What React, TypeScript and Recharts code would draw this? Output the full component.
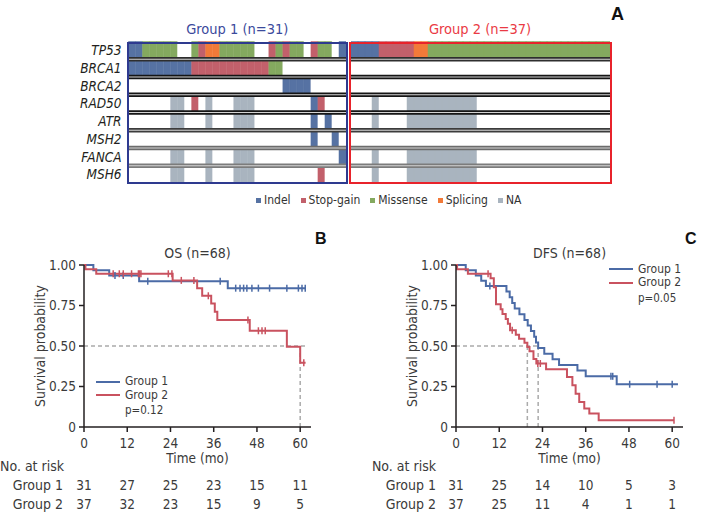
import React from "react";
import { BarChart, Bar, Cell, XAxis, YAxis, ReferenceLine, ComposedChart, Line } from "recharts";

const FONT = "'Liberation Sans Narrow', 'Arial Narrow', 'DejaVu Sans Condensed', 'Liberation Sans', Arial, sans-serif";

// ---------- panel A: mutation map ----------
const genes = ["TP53", "BRCA1", "BRCA2", "RAD50", "ATR", "MSH2", "FANCA", "MSH6"];
const mutationTypes = ["Indel", "Stop-gain", "Missense", "Splicing", "NA"];
const mutationCodes = ["I", "S", "M", "P", "N"];
const mutationColors = ["#5672a3", "#c2606b", "#84a95f", "#f27a39", "#a9b4bf"];

// one character per patient: I indel, S stop-gain, M missense, P splicing, N NA, . none
const group1Calls = [
  "IIMMMMM..MSPPMMMMM..SMSMM.SMM.I",
  "IIIIIIIIISSSSSSSSSSSMM.........",
  "......................IIII.....",
  "......NN.S.N...NNN........IS...",
  "......NN...N...NNN........I.I..",
  "..........................I..I.",
  "......NN...N...NNN............I",
  "......NN...N...NNN.........S...",
];
const group2Calls = [
  "IIIISSSSSPP" + "MMMMMMMMMMMMM" + "MMMMMMMMMMMMM",
  ".........." + ".........." + ".........." + ".......",
  ".........." + ".........." + ".........." + ".......",
  "...N....NNNNNNNNNN" + ".........." + ".........",
  "...N....NNNNNNNNNN" + ".........." + ".........",
  ".........." + ".........." + ".........." + ".......",
  "...N....NNNNNNNNNN" + ".........." + ".........",
  "...N....NNNNNNNNNN" + ".........." + ".........",
];
const separatorColors = ["#2e2e2e", "#151515", "#151515", "#151515", "#3c3c3c", "#6c6c6c", "#7c7c7c"];

// ---------- panels B / C: survival ----------
const monthTicks = [0, 12, 24, 36, 48, 60];
const survivalTicks = [0, 0.25, 0.5, 0.75, 1];

const osGroup1Steps = [[0, 1], [2.6, 0.968], [7.0, 0.935], [15.3, 0.9], [39.9, 0.857], [61.5, 0.857]];
const osGroup1Censored = [8.6, 10.9, 17.7, 37.8, 42.1, 43.3, 44.3, 45.2, 46.6, 48.4, 51.5, 56.3, 59.5, 60.5, 61.4];
const osGroup2Steps = [[0, 1], [0.4, 0.973], [3.4, 0.946], [24.6, 0.905], [31.4, 0.857], [32.8, 0.81], [35.3, 0.762], [36.3, 0.711], [37.0, 0.66], [46.0, 0.594], [56.3, 0.495], [60.0, 0.396], [61.5, 0.396]];
const osGroup2Censored = [8.1, 9.8, 10.9, 13.2, 15.1, 15.4, 15.8, 23.4, 24.4, 27.0, 30.5, 34.5, 45.5, 48.4, 49.4, 50.3, 61.0];
const osRisk1 = [31, 27, 25, 23, 15, 11];
const osRisk2 = [37, 32, 23, 15, 9, 5];
const osGuides = [[0, 0.5, 62, 0.5], [60, 0, 60, 0.5]];

const dfsGroup1Steps = [[0, 1], [2.7, 0.968], [5.5, 0.935], [7.0, 0.903], [8.3, 0.871], [14.0, 0.836], [14.9, 0.801], [15.6, 0.766], [16.3, 0.731], [17.6, 0.696], [19.0, 0.661], [19.9, 0.626], [20.8, 0.592], [21.7, 0.557], [22.2, 0.522], [22.8, 0.487], [24.5, 0.452], [26.8, 0.418], [28.6, 0.383], [33.7, 0.348], [36.0, 0.313], [44.6, 0.264], [61.6, 0.264]];
const dfsGroup1Censored = [9.4, 43.0, 43.5, 48.2, 55.8, 60.0];
const dfsGroup2Steps = [[0, 1], [0.3, 0.973], [3.3, 0.946], [9.6, 0.918], [10.5, 0.862], [11.1, 0.757], [12.4, 0.727], [12.9, 0.697], [13.8, 0.667], [14.4, 0.637], [15.0, 0.597], [16.6, 0.57], [17.5, 0.545], [19.0, 0.52], [19.8, 0.494], [20.4, 0.468], [21.5, 0.42], [22.3, 0.392], [25.0, 0.356], [30.8, 0.309], [32.3, 0.258], [33.2, 0.206], [34.2, 0.155], [35.6, 0.114], [37.0, 0.083], [39.6, 0.041], [60.5, 0.041]];
const dfsGroup2Censored = [8.9, 15.6, 22.7, 23.4, 60.5];
const dfsRisk1 = [31, 25, 14, 10, 5, 3];
const dfsRisk2 = [37, 25, 11, 4, 1, 1];
const dfsGuides = [[0, 0.5, 22.8, 0.5], [19.8, 0, 19.8, 0.5], [22.8, 0, 22.8, 0.5]];

const BLUE = "#4b6ba6";
const RED = "#c9525f";
const INK = "#231f20";
const TEXT = "#3a3a3a";

const colorOf = (code: string) => {
  const i = mutationCodes.indexOf(code);
  return i < 0 ? "#ffffff" : mutationColors[i];
};

const toRows = (calls: string[]) =>
  calls[0].split("").map((_, i) => {
    const row: any = { id: i };
    genes.forEach((g, k) => {
      row[g] = 1;
      row[g + "_c"] = calls[k][i];
    });
    return row;
  });

function OncoPanel({ calls, left, width, showLabels }: any) {
  const rows = toRows(calls);
  return (
    <div style={{ position: "absolute", left, top: 0 }}>
      <BarChart width={width} height={200} data={rows} margin={{ top: 41.5, right: 0, bottom: 16.5, left: 0 }} barCategoryGap={0} barGap={0}>
        <XAxis dataKey="id" hide />
        <YAxis
          type="number"
          domain={[0, 8]}
          reversed
          hide={!showLabels}
          width={showLabels ? 128.5 : 0}
          ticks={genes.map((_, i) => i + 0.5)}
          interval={0}
          tickFormatter={(v: number) => genes[Math.floor(v)]}
          tickLine={false}
          axisLine={false}
          tickSize={0}
          tickMargin={7}
          tick={{ fontSize: 13.5, fontStyle: "italic", fill: INK }}
        />
        {genes.map((g) => (
          <Bar key={g} dataKey={g} stackId="a" isAnimationActive={false}>
            {rows.map((r: any, i: number) => (
              <Cell key={i} fill={colorOf(r[g + "_c"])} stroke={colorOf(r[g + "_c"])} strokeWidth={0.5} />
            ))}
          </Bar>
        ))}
        {separatorColors.map((c, i) => (
          <ReferenceLine key={"o" + i} y={i + 1} stroke={c} strokeWidth={4.4} />
        ))}
        {separatorColors.map((c, i) => (
          <ReferenceLine key={"i" + i} y={i + 1} stroke="#d4d4d4" strokeWidth={1.1} />
        ))}
      </BarChart>
    </div>
  );
}

const buildCurve = (steps: number[][], censored: number[]) => {
  const pts = steps.map(([t, s]) => ({ t, s, c: false }));
  censored.forEach((ct) => {
    let s = 1;
    steps.forEach(([t, v]) => {
      if (t <= ct) s = v;
    });
    pts.push({ t: ct, s, c: true });
  });
  return pts.sort((a, b) => a.t - b.t);
};

const censorDot = (color: string) => (props: any) => {
  const { cx, cy, payload, index } = props;
  if (!payload || !payload.c) return <g key={`n-${index}`} />;
  return <line key={`c-${index}`} x1={cx} x2={cx} y1={cy - 3.5} y2={cy + 3.5} stroke={color} strokeWidth={1.5} />;
};

const riskTick = (risk1: number[], risk2: number[]) => (props: any) => {
  const { x, y, payload } = props;
  const i = monthTicks.indexOf(payload.value);
  return (
    <g key={`t-${i}`}>
      <text x={x} y={y + 11} textAnchor="middle" fontSize={13.5} fill={TEXT}>{payload.value}</text>
      <text x={x} y={y + 53} textAnchor="middle" fontSize={13.5} fill={TEXT}>{risk1[i]}</text>
      <text x={x} y={y + 72} textAnchor="middle" fontSize={13.5} fill={TEXT}>{risk2[i]}</text>
    </g>
  );
};

function KMChart({ left, width, yAxisWidth, labelOffset, steps1, cens1, steps2, cens2, risk1, risk2, guides }: any) {
  const c1 = buildCurve(steps1, cens1);
  const c2 = buildCurve(steps2, cens2);
  return (
    <div style={{ position: "absolute", left, top: 230 }}>
      <ComposedChart width={width} height={290} margin={{ top: 35, right: width - yAxisWidth - 227, bottom: 53, left: 0 }}>
        <XAxis
          dataKey="t"
          type="number"
          domain={[0, 63]}
          ticks={monthTicks}
          interval={0}
          allowDataOverflow
          height={40}
          tickSize={5}
          tickMargin={5}
          axisLine={{ stroke: INK, strokeWidth: 1.5 }}
          tickLine={{ stroke: INK, strokeWidth: 1.5 }}
          tick={riskTick(risk1, risk2)}
          label={{ value: "Time (mo)", position: "insideBottom", offset: 4, fontSize: 13.5, fill: TEXT }}
        />
        <YAxis
          type="number"
          domain={[0, 1]}
          ticks={survivalTicks}
          interval={0}
          width={yAxisWidth}
          tickSize={5}
          tickMargin={3}
          axisLine={{ stroke: INK, strokeWidth: 1.5 }}
          tickLine={{ stroke: INK, strokeWidth: 1.5 }}
          tick={{ fontSize: 13.5, fill: TEXT }}
          tickFormatter={(v: number) => (v === 0 ? "0" : v.toFixed(2))}
          label={{ value: "Survival probability", angle: -90, position: "insideLeft", offset: labelOffset, fontSize: 14, fill: TEXT, style: { textAnchor: "middle" } }}
        />
        {guides.map((g: number[], i: number) => (
          <ReferenceLine key={i} segment={[{ x: g[0], y: g[1] }, { x: g[2], y: g[3] }]} stroke="#ababab" strokeWidth={1.5} strokeDasharray="4 3" />
        ))}
        <Line data={c1} dataKey="s" type="stepAfter" stroke={BLUE} strokeWidth={2} dot={censorDot(BLUE)} activeDot={false} isAnimationActive={false} />
        <Line data={c2} dataKey="s" type="stepAfter" stroke={RED} strokeWidth={2} dot={censorDot(RED)} activeDot={false} isAnimationActive={false} />
      </ComposedChart>
    </div>
  );
}

function KMLegend({ left, top, p }: any) {
  const rowH = 13.5;
  return (
    <div style={{ position: "absolute", left, top, fontSize: 12, color: TEXT }}>
      {[["Group 1", BLUE], ["Group 2", RED]].map(([name, color]) => (
        <div key={name} style={{ display: "flex", alignItems: "center", height: rowH, lineHeight: `${rowH}px` }}>
          <span style={{ display: "inline-block", width: 24, height: 2, background: color, marginRight: 5 }} />
          {name}
        </div>
      ))}
      <div style={{ marginLeft: 29, marginTop: 2, fontSize: 11.5, height: rowH, lineHeight: `${rowH}px` }}>{p}</div>
    </div>
  );
}

const abs = (style: any) => ({ position: "absolute", whiteSpace: "nowrap", ...style });

export default function App() {
  return (
    <div style={{ position: "relative", width: 703, height: 520, background: "#fff", fontFamily: FONT, overflow: "hidden" }}>
      <style>{"body{margin:0}"}</style>

      <div style={abs({ left: 611, top: 4, fontSize: 18, fontWeight: 700, fontFamily: "'Liberation Sans', Arial, sans-serif", color: "#111" })}>A</div>
      <div style={abs({ left: 126.5, width: 221.5, top: 20, lineHeight: "18px", fontSize: 14.5, textAlign: "center", color: "#3b4a9c" })}>Group 1 (n=31)</div>
      <div style={abs({ left: 348.5, width: 263, top: 20, lineHeight: "18px", fontSize: 14.5, textAlign: "center", color: "#ea3a44" })}>Group 2 (n=37)</div>

      <OncoPanel calls={group1Calls} left={0} width={346} showLabels />
      <OncoPanel calls={group2Calls} left={350.5} width={259} showLabels={false} />
      <div style={abs({ left: 126.5, top: 41.5, width: 221.5, height: 142, border: "2px solid #2e3a8f", boxSizing: "border-box" })} />
      <div style={abs({ left: 348.5, top: 41.5, width: 263, height: 142, border: "2px solid #e8232b", boxSizing: "border-box" })} />

      <div style={abs({ left: 256, top: 192, display: "flex", alignItems: "center", fontSize: 12, lineHeight: "16px", color: "#333" })}>
        {mutationTypes.map((m, i) => (
          <div key={m} style={{ display: "flex", alignItems: "center", marginRight: 10 }}>
            <span style={{ display: "inline-block", width: 5, height: 5, background: mutationColors[i], marginRight: 3 }} />
            {m}
          </div>
        ))}
      </div>

      <div style={abs({ left: 84, width: 227, top: 244, lineHeight: "18px", fontSize: 14, textAlign: "center", color: TEXT })}>OS (n=68)</div>
      <div style={abs({ left: 456, width: 227, top: 244, lineHeight: "18px", fontSize: 14, textAlign: "center", color: TEXT })}>DFS (n=68)</div>
      <div style={abs({ left: 315, top: 230, fontSize: 16, fontWeight: 700, fontFamily: "'Liberation Sans', Arial, sans-serif", color: "#111" })}>B</div>
      <div style={abs({ left: 685, top: 230, fontSize: 16, fontWeight: 700, fontFamily: "'Liberation Sans', Arial, sans-serif", color: "#111" })}>C</div>

      <KMChart left={0} width={350} yAxisWidth={84} labelOffset={40} steps1={osGroup1Steps} cens1={osGroup1Censored} steps2={osGroup2Steps} cens2={osGroup2Censored} risk1={osRisk1} risk2={osRisk2} guides={osGuides} />
      <KMChart left={370} width={333} yAxisWidth={86} labelOffset={42} steps1={dfsGroup1Steps} cens1={dfsGroup1Censored} steps2={dfsGroup2Steps} cens2={dfsGroup2Censored} risk1={dfsRisk1} risk2={dfsRisk2} guides={dfsGuides} />

      <KMLegend left={96} top={375} p="p=0.12" />
      <KMLegend left={609} top={262.5} p="p=0.05" />

      {[0, 370].map((x) => (
        <div key={x} style={abs({ left: x, width: x ? 66 : 63, top: 457, fontSize: 14, lineHeight: "18px", textAlign: "right", color: TEXT })}>
          No. at risk
          <div style={{ marginTop: 1 }}>Group 1</div>
          <div style={{ marginTop: 1 }}>Group 2</div>
        </div>
      ))}
    </div>
  );
}
